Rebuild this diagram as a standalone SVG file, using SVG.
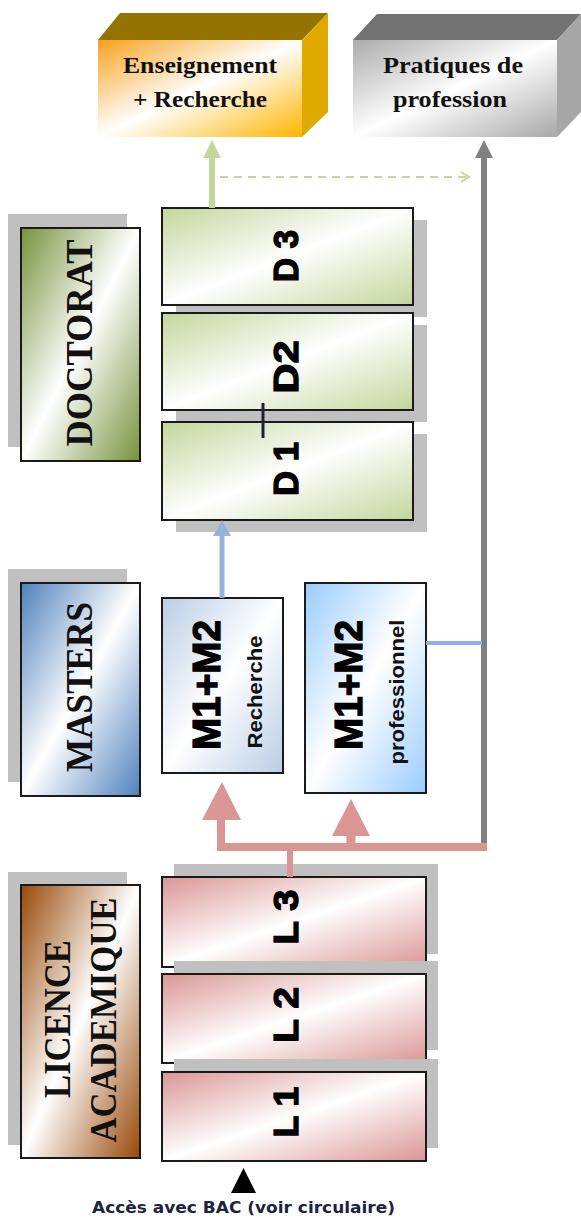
<svg xmlns="http://www.w3.org/2000/svg" width="581" height="1219" viewBox="0 0 581 1219">
<style>
.box{stroke:#1a1a1a;stroke-width:2}
.shadow{fill:#c0c0c0}
.lbl{font-family:"Liberation Serif","Times New Roman",serif;font-weight:bold;fill:#111;text-anchor:middle}
.yr{font-family:"Liberation Sans",Arial,sans-serif;font-weight:bold;fill:#000;stroke:#000;stroke-width:1.3;text-anchor:middle}
.sub{font-family:"Liberation Sans",Arial,sans-serif;font-weight:bold;fill:#111;text-anchor:middle}
.top{font-family:"Liberation Serif","Times New Roman",serif;font-weight:bold;font-size:24px;fill:#111;text-anchor:middle}
.pink{stroke:#d99694;fill:none}
.pinkh{fill:#d99694}
</style>
<defs>
<linearGradient id="gOrange" x1="0" y1="0" x2="1" y2="1"><stop offset="0" stop-color="#f7a21e"/><stop offset="0.5" stop-color="#ffffff"/><stop offset="1" stop-color="#ffb400"/></linearGradient>
<linearGradient id="gGray" x1="0" y1="0" x2="1" y2="1"><stop offset="0" stop-color="#ababab"/><stop offset="0.5" stop-color="#ffffff"/><stop offset="1" stop-color="#a8a8a8"/></linearGradient>
<linearGradient id="gDoc" x1="0" y1="0" x2="1" y2="1"><stop offset="0" stop-color="#76923c"/><stop offset="0.5" stop-color="#ffffff"/><stop offset="1" stop-color="#76923c"/></linearGradient>
<linearGradient id="gD" x1="0" y1="0" x2="1" y2="1"><stop offset="0" stop-color="#c3d69b"/><stop offset="0.5" stop-color="#ffffff"/><stop offset="1" stop-color="#c3d69b"/></linearGradient>
<linearGradient id="gMas" x1="0" y1="0" x2="1" y2="1"><stop offset="0" stop-color="#4f81bd"/><stop offset="0.5" stop-color="#ffffff"/><stop offset="1" stop-color="#4f81bd"/></linearGradient>
<linearGradient id="gMR" x1="0" y1="0" x2="1" y2="1"><stop offset="0" stop-color="#b9cde5"/><stop offset="0.5" stop-color="#ffffff"/><stop offset="1" stop-color="#b9cde5"/></linearGradient>
<linearGradient id="gMP" x1="0" y1="0" x2="1" y2="1"><stop offset="0" stop-color="#99ccff"/><stop offset="0.5" stop-color="#ffffff"/><stop offset="1" stop-color="#99ccff"/></linearGradient>
<linearGradient id="gLic" x1="0" y1="0" x2="1" y2="1"><stop offset="0" stop-color="#984807"/><stop offset="0.5" stop-color="#ffffff"/><stop offset="1" stop-color="#984807"/></linearGradient>
<linearGradient id="gL" x1="0" y1="0" x2="1" y2="1"><stop offset="0" stop-color="#d99694"/><stop offset="0.5" stop-color="#ffffff"/><stop offset="1" stop-color="#d99694"/></linearGradient>
</defs>
<rect width="581" height="1219" fill="#ffffff"/>

<g id="enseignement">
<polygon points="98,40 120,13 328,13 302,40" fill="#957300"/>
<polygon points="302,40 328,13 328,112 302,137" fill="#e0a900"/>
<rect x="98" y="40" width="204" height="97" fill="url(#gOrange)"/>
<text class="top" x="200" y="73" textLength="154" lengthAdjust="spacingAndGlyphs">Enseignement</text>
<text class="top" x="200" y="107" textLength="134" lengthAdjust="spacingAndGlyphs">+ Recherche</text>
</g>

<g id="pratiques">
<polygon points="353,40 377,14 581,14 557,40" fill="#727272"/>
<polygon points="557,40 581,14 581,112 557,137" fill="#a6a6a6"/>
<rect x="353" y="40" width="204" height="97" fill="url(#gGray)"/>
<text class="top" x="453" y="73" textLength="140" lengthAdjust="spacingAndGlyphs">Pratiques de</text>
<text class="top" x="450" y="107" textLength="114" lengthAdjust="spacingAndGlyphs">profession</text>
</g>

<g id="doctorat">
<rect class="shadow" x="8" y="214" width="119" height="233"/>
<rect class="box" x="21" y="228" width="119" height="233" fill="url(#gDoc)"/>
<text class="lbl" font-size="37" textLength="207" lengthAdjust="spacingAndGlyphs" transform="translate(92,343) rotate(-90)">DOCTORAT</text>
</g>

<g id="d3">
<rect class="shadow" x="176" y="220" width="251" height="97"/>
<rect class="box" x="162" y="208" width="251" height="97" fill="url(#gD)"/>
<text class="yr" font-size="35" textLength="52" lengthAdjust="spacingAndGlyphs" transform="translate(298,256) rotate(-90)">D 3</text>
</g>
<g id="d2">
<rect class="shadow" x="176" y="325" width="251" height="97"/>
<rect class="box" x="162" y="313" width="251" height="97" fill="url(#gD)"/>
<text class="yr" font-size="35" textLength="53" lengthAdjust="spacingAndGlyphs" transform="translate(298,367) rotate(-90)">D2</text>
</g>
<g id="d1">
<rect class="shadow" x="176" y="434" width="251" height="98"/>
<rect class="box" x="162" y="422" width="251" height="98" fill="url(#gD)"/>
<text class="yr" font-size="35" textLength="54" lengthAdjust="spacingAndGlyphs" transform="translate(298,469) rotate(-90)">D 1</text>
</g>

<g id="masters">
<rect class="shadow" x="8" y="569" width="119" height="213"/>
<rect class="box" x="21" y="583" width="119" height="213" fill="url(#gMas)"/>
<text class="lbl" font-size="37" textLength="170" lengthAdjust="spacingAndGlyphs" transform="translate(92,687) rotate(-90)">MASTERS</text>
</g>

<g id="m-recherche">
<rect class="box" x="162" y="598" width="121" height="175" fill="url(#gMR)"/>
<text class="yr" font-size="38" textLength="130" lengthAdjust="spacingAndGlyphs" transform="translate(220,685) rotate(-90)">M1+M2</text>
<text class="sub" font-size="20" textLength="113" lengthAdjust="spacingAndGlyphs" transform="translate(262,692) rotate(-90)">Recherche</text>
</g>

<g id="m-professionnel">
<rect class="box" x="305" y="583" width="121" height="210" fill="url(#gMP)"/>
<text class="yr" font-size="38" textLength="130" lengthAdjust="spacingAndGlyphs" transform="translate(362,685) rotate(-90)">M1+M2</text>
<text class="sub" font-size="20" textLength="145" lengthAdjust="spacingAndGlyphs" transform="translate(404,692) rotate(-90)">professionnel</text>
</g>

<g id="licence">
<rect class="shadow" x="8" y="872" width="119" height="273"/>
<rect class="box" x="21" y="885" width="119" height="273" fill="url(#gLic)"/>
<text class="lbl" font-size="37" textLength="158" lengthAdjust="spacingAndGlyphs" transform="translate(70,1019) rotate(-90)">LICENCE</text>
<text class="lbl" font-size="37" textLength="245" lengthAdjust="spacingAndGlyphs" transform="translate(116,1020) rotate(-90)">ACADEMIQUE</text>
</g>

<g id="l3">
<rect class="shadow" x="174" y="864" width="264" height="90"/>
<rect class="box" x="162" y="877" width="264" height="90" fill="url(#gL)"/>
<text class="yr" font-size="35" textLength="55" lengthAdjust="spacingAndGlyphs" transform="translate(298,917) rotate(-90)">L 3</text>
</g>
<g id="l2">
<rect class="shadow" x="174" y="961" width="264" height="89"/>
<rect class="box" x="162" y="974" width="264" height="89" fill="url(#gL)"/>
<text class="yr" font-size="35" textLength="56" lengthAdjust="spacingAndGlyphs" transform="translate(298,1015) rotate(-90)">L 2</text>
</g>
<g id="l1">
<rect class="shadow" x="174" y="1059" width="264" height="89"/>
<rect class="box" x="162" y="1072" width="264" height="89" fill="url(#gL)"/>
<text class="yr" font-size="35" textLength="51" lengthAdjust="spacingAndGlyphs" transform="translate(298,1112) rotate(-90)">L 1</text>
</g>

<g id="connectors">
<line x1="212" y1="208" x2="212" y2="156" stroke="#c3d69b" stroke-width="6"/>
<polygon points="212,140 203,158 221,158" fill="#c3d69b"/>
<line x1="220" y1="177" x2="468" y2="177" stroke="#c3d69b" stroke-width="2" stroke-dasharray="8 6"/>
<polyline points="461,172 469,177 461,182" fill="none" stroke="#c3d69b" stroke-width="2"/>
<line x1="484" y1="847" x2="484" y2="156" stroke="#808080" stroke-width="6"/>
<polygon points="484,140 475,158 493,158" fill="#808080"/>
<line x1="222" y1="598" x2="222" y2="534" stroke="#95b3d7" stroke-width="5"/>
<polygon points="222,520 213,536 231,536" fill="#95b3d7"/>
<line x1="426" y1="643" x2="482" y2="643" stroke="#8db3e2" stroke-width="4"/>
<path class="pink" d="M221,818 V847 H487" stroke-width="8"/>
<polygon class="pinkh" points="222,782 202,820 241,820"/>
<line class="pink" x1="351" y1="847" x2="351" y2="834" stroke-width="9"/>
<polygon class="pinkh" points="351,799 332,836 370,836"/>
<line class="pink" x1="290" y1="847" x2="290" y2="877" stroke-width="6"/>
<line x1="263" y1="403" x2="263" y2="438" stroke="#1f1f3a" stroke-width="3"/>
<polygon points="243.5,1168 231,1193 256,1193" fill="#000000"/>
</g>

<text x="243.5" y="1213" font-family="'DejaVu Sans',Verdana,sans-serif" font-weight="bold" font-size="15" fill="#1c2340" text-anchor="middle" textLength="303" lengthAdjust="spacingAndGlyphs">Accès avec BAC (voir circulaire)</text>
</svg>
